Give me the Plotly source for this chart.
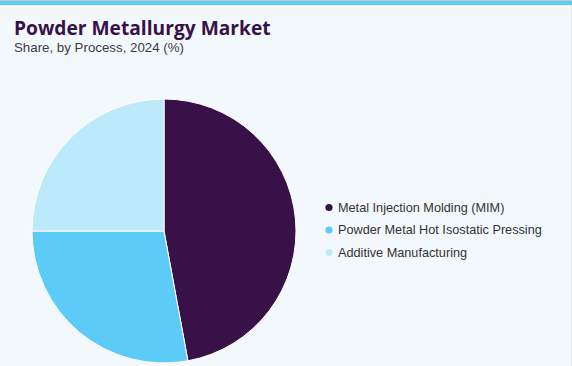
import plotly.graph_objects as go

labels = ["Metal Injection Molding (MIM)", "Powder Metal Hot Isostatic Pressing", "Additive Manufacturing"]
shares = [47.1, 27.9, 25.0]
colors = ["#371147", "#5DCBF7", "#BDEAFA"]

W, H = 572, 366
fig = go.Figure()
fig.add_trace(go.Pie(
    labels=labels, values=shares, sort=False, direction="clockwise", rotation=0,
    marker=dict(colors=colors, line=dict(color="white", width=1)),
    textinfo="none", hoverinfo="label+percent", showlegend=False,
    domain=dict(x=[32/W, 296/W], y=[3/H, 267/H]),
))

shapes = [
    dict(type="rect", xref="paper", yref="paper", x0=0, x1=1, y0=1 - 1/H, y1=1,
         fillcolor="#C4C8CC", line=dict(width=0), layer="above"),
    dict(type="rect", xref="paper", yref="paper", x0=0, x1=1, y0=1 - 5/H, y1=1 - 1/H,
         fillcolor="#5BCBF5", line=dict(width=0), layer="above"),
    dict(type="rect", xref="paper", yref="paper", x0=1 - 1/W, x1=1, y0=0, y1=1 - 5/H,
         fillcolor="#E3E8EC", line=dict(width=0), layer="above"),
]
annotations = [
    dict(text="<b>Powder Metallurgy Market</b>", xref="paper", yref="paper",
         x=12/W, y=1 - 28/H, xanchor="left", yanchor="middle", showarrow=False,
         font=dict(family="Open Sans", size=19.2, color="#371147", weight=800)),
    dict(text="Share, by Process, 2024 (%)", xref="paper", yref="paper",
         x=12/W, y=1 - 47.5/H, xanchor="left", yanchor="middle", showarrow=False,
         font=dict(family="Liberation Sans, Arial", size=13.3, color="#3C3C3C")),
]
row0, gap = 207.5, 22.5
for i, (lab, col) in enumerate(zip(labels, colors)):
    yc = row0 + i * gap
    shapes.append(dict(type="circle", xref="paper", yref="paper",
                       x0=(329 - 3.6)/W, x1=(329 + 3.6)/W,
                       y0=1 - (yc + 3.6)/H, y1=1 - (yc - 3.6)/H,
                       fillcolor=col, line=dict(width=0)))
    annotations.append(dict(text=lab, xref="paper", yref="paper",
                            x=336/W, y=1 - yc/H, xanchor="left", yanchor="middle",
                            showarrow=False,
                            font=dict(family="Liberation Sans, Arial", size=12.7, color="#333333")))

fig.update_layout(
    width=W, height=H, margin=dict(l=0, r=0, t=0, b=0),
    paper_bgcolor="#F3F8FC", plot_bgcolor="#F3F8FC",
    shapes=shapes, annotations=annotations, showlegend=False,
)
fig.write_html("out.html", config={"displayModeBar": False},
               post_script="document.body.style.margin='0';document.body.style.overflow='hidden';")
